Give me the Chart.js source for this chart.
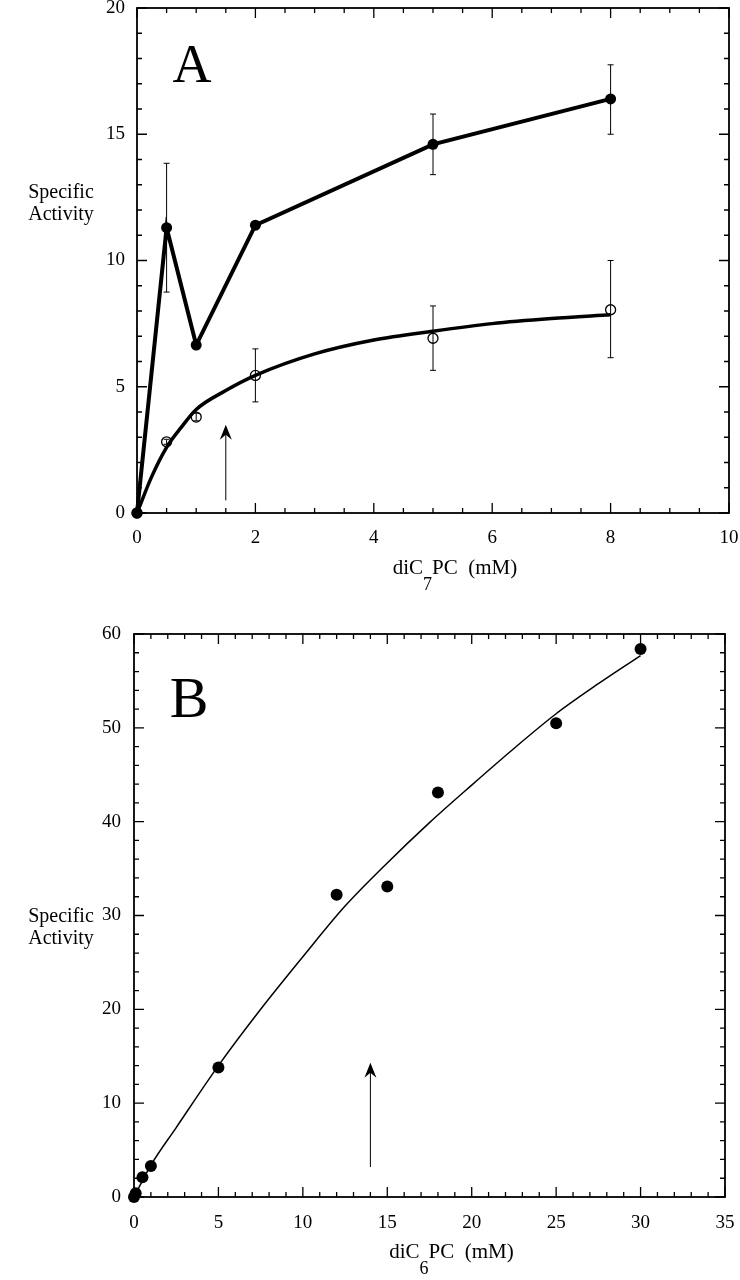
<!DOCTYPE html>
<html>
<head>
<meta charset="utf-8">
<script src="https://cdn.jsdelivr.net/npm/chart.js@4.4.1/dist/chart.umd.min.js"></script>
<style>
html, body { margin: 0; padding: 0; background: #fff; }
#wrapA { position: absolute; left: 0; top: 0; width: 740px; height: 600px; }
#wrapB { position: absolute; left: 0; top: 600px; width: 740px; height: 680px; }
</style>
</head>
<body>
<div id="wrapA"><canvas id="chartA"></canvas></div>
<div id="wrapB"><canvas id="chartB"></canvas></div>
<script>
// ---- panel A : diC7PC ----
const aConc = [0, 0.5, 1, 2, 5, 8];
const aFilled = [0, 11.3, 6.65, 11.4, 14.6, 16.4];
const aFilledLow = [null, 8.75, null, 11.28, 13.4, 15.0];
const aFilledHigh = [null, 13.85, null, 11.52, 15.8, 17.75];
const aOpen = [0, 2.82, 3.8, 5.45, 6.92, 8.05];
const aOpenLow = [null, 2.72, 3.65, 4.4, 5.65, 6.15];
const aOpenHigh = [null, 2.92, 3.95, 6.5, 8.2, 10.0];
const aFitX = [0, 0.25, 0.5, 0.75, 1, 1.5, 2, 3, 4, 5, 6, 7, 8];
const aFitY = [0, 1.45, 2.6, 3.4, 4.1, 4.85, 5.45, 6.3, 6.85, 7.2, 7.5, 7.7, 7.85];
const aXTicks = [0, 2, 4, 6, 8, 10];
const aYTicks = [0, 5, 10, 15, 20];
const aArrow = { x: 1.5, from: 0.5, to: 3.5 };

// ---- panel B : diC6PC ----
const bConc = [0, 0.1, 0.5, 1, 5, 12, 15, 18, 25, 30];
const bAct = [0, 0.4, 2.1, 3.3, 13.8, 32.2, 33.1, 43.1, 50.5, 58.4];
const bFitX = [0, 1, 2.5, 5, 7.5, 10, 12.5, 15, 17.5, 20, 22.5, 25, 27.5, 30];
const bFitY = [0, 3.4, 7.4, 14.0, 20.0, 25.6, 31.0, 35.6, 39.9, 43.9, 47.8, 51.5, 54.7, 57.7];
const bXTicks = [0, 5, 10, 15, 20, 25, 30, 35];
const bYTicks = [0, 10, 20, 30, 40, 50, 60];
const bArrow = { x: 14, from: 3.2, to: 14.3 };

const serif = '"Liberation Serif", "DejaVu Serif", serif';

function pts(xs, ys) {
    return xs.map((x, i) => ({ x: x, y: ys[i] }));
}

function drawAxisTicks(ctx, area, scale, step, major, horizontal) {
    const n = Math.round((scale.max - scale.min) / step);
    ctx.beginPath();
    for (let k = 0; k <= n; k++) {
        const v = scale.min + k * step;
        const isMajor = Math.abs(v / major - Math.round(v / major)) < 1e-6;
        const len = isMajor ? 10 : 5;
        const p = scale.getPixelForValue(v);
        if (horizontal) {
            ctx.moveTo(p, area.bottom); ctx.lineTo(p, area.bottom - len);
            ctx.moveTo(p, area.top); ctx.lineTo(p, area.top + len);
        } else {
            ctx.moveTo(area.left, p); ctx.lineTo(area.left + len, p);
            ctx.moveTo(area.right, p); ctx.lineTo(area.right - len, p);
        }
    }
    ctx.stroke();
}

function makeDecor(cfg) {
    return {
        id: 'decor',
        beforeDatasetsDraw(chart) {
            const ctx = chart.ctx, xs = chart.scales.x, ys = chart.scales.y;
            ctx.save();
            ctx.strokeStyle = '#000';
            ctx.lineWidth = 1;
            cfg.errors.forEach(set => {
                set.x.forEach((xv, i) => {
                    if (set.low[i] == null) return;
                    const px = xs.getPixelForValue(xv);
                    const y1 = ys.getPixelForValue(set.low[i]);
                    const y2 = ys.getPixelForValue(set.high[i]);
                    ctx.beginPath();
                    ctx.moveTo(px, y1); ctx.lineTo(px, y2);
                    ctx.moveTo(px - 3, y1); ctx.lineTo(px + 3, y1);
                    ctx.moveTo(px - 3, y2); ctx.lineTo(px + 3, y2);
                    ctx.stroke();
                });
            });
            // arrow
            const ax = xs.getPixelForValue(cfg.arrow.x);
            const a0 = ys.getPixelForValue(cfg.arrow.from);
            const a1 = ys.getPixelForValue(cfg.arrow.to);
            ctx.beginPath();
            ctx.moveTo(ax, a0); ctx.lineTo(ax, a1 + 8);
            ctx.stroke();
            ctx.fillStyle = '#000';
            ctx.beginPath();
            ctx.moveTo(ax, a1);
            ctx.lineTo(ax - 6, a1 + 15);
            ctx.lineTo(ax, a1 + 10);
            ctx.lineTo(ax + 6, a1 + 15);
            ctx.closePath();
            ctx.fill();
            ctx.restore();
        },
        afterDraw(chart) {
            const ctx = chart.ctx, area = chart.chartArea;
            ctx.save();
            ctx.strokeStyle = '#000';
            ctx.lineWidth = 1.8;
            ctx.strokeRect(area.left, area.top, area.right - area.left, area.bottom - area.top);
            ctx.lineWidth = 1.3;
            drawAxisTicks(ctx, area, chart.scales.x, cfg.xMinor, cfg.xMajor, true);
            drawAxisTicks(ctx, area, chart.scales.y, cfg.yMinor, cfg.yMajor, false);

            ctx.fillStyle = '#000';
            // panel letter
            ctx.font = cfg.letterSize + 'px ' + serif;
            ctx.textAlign = 'center';
            ctx.textBaseline = 'alphabetic';
            ctx.fillText(cfg.letter, area.left + 55, area.top + cfg.letterDy);

            // y title
            ctx.font = '20px ' + serif;
            ctx.fillText('Specific', 61, area.top + cfg.yTitleDy);
            ctx.fillText('Activity', 61, area.top + cfg.yTitleDy + 22);

            // x title with subscript
            const main1 = 'diC', sub = cfg.sub, main2 = 'PC  (mM)';
            ctx.font = '21px ' + serif;
            const w1 = ctx.measureText(main1).width;
            const w3 = ctx.measureText(main2).width;
            ctx.font = '18px ' + serif;
            const w2 = ctx.measureText(sub).width;
            const cx = (area.left + area.right) / 2 + 22;
            let x0 = cx - (w1 + w2 + w3) / 2;
            const base = area.bottom + 61;
            ctx.textAlign = 'left';
            ctx.font = '21px ' + serif;
            ctx.fillText(main1, x0, base);
            ctx.font = '18px ' + serif;
            ctx.fillText(sub, x0 + w1, base + 16);
            ctx.font = '21px ' + serif;
            ctx.fillText(main2, x0 + w1 + w2, base);
            ctx.restore();
        }
    };
}

function axisOpts(min, max, ticksArr, pad, isX, size) {
    return {
        type: 'linear',
        min: min,
        max: max,
        grid: { display: false, drawTicks: false },
        border: { display: false },
        afterBuildTicks: scale => { scale.ticks = ticksArr.map(v => ({ value: v })); },
        afterFit: scale => {
            if (isX) scale.height = size; else scale.width = size;
            // labels may run past the plot edge, as in the original
            scale.paddingLeft = 0; scale.paddingRight = 0;
            scale.paddingTop = 0; scale.paddingBottom = 0;
        },
        ticks: {
            color: '#000',
            padding: pad,
            maxRotation: 0,
            autoSkip: false,
            font: { family: serif, size: 19 }
        }
    };
}

function baseOptions(padding, xs, ys) {
    return {
        responsive: true,
        maintainAspectRatio: false,
        animation: false,
        layout: { padding: padding },
        plugins: { legend: { display: false }, tooltip: { enabled: false } },
        scales: { x: xs, y: ys }
    };
}

new Chart(document.getElementById('chartA'), {
    type: 'scatter',
    data: {
        datasets: [
            {
                data: pts(aFitX, aFitY),
                showLine: true, cubicInterpolationMode: 'monotone',
                borderColor: '#000', borderWidth: 3.5, pointRadius: 0, clip: false
            },
            {
                data: pts(aConc, aFilled),
                showLine: true, borderColor: '#000', borderWidth: 4,
                pointRadius: 5.5, pointBackgroundColor: '#000', pointBorderWidth: 0, clip: false
            },
            {
                data: pts(aConc, aOpen),
                showLine: false, borderColor: '#000',
                pointRadius: 5, pointBackgroundColor: 'rgba(255,255,255,0)', pointBorderWidth: 1.3, clip: false
            }
        ]
    },
    options: baseOptions({ top: 8, right: 11, left: 0, bottom: 0 },
        axisOpts(0, 10, aXTicks, 14, true, 87),
        axisOpts(0, 20, aYTicks, 12, false, 137)),
    plugins: [makeDecor({
        errors: [
            { x: aConc, low: aFilledLow, high: aFilledHigh },
            { x: aConc, low: aOpenLow, high: aOpenHigh }
        ],
        arrow: aArrow,
        xMinor: 0.5, xMajor: 2, yMinor: 1, yMajor: 5,
        letter: 'A', letterSize: 54, letterDy: 74,
        yTitleDy: 190, sub: '7'
    })]
});

new Chart(document.getElementById('chartB'), {
    type: 'scatter',
    data: {
        datasets: [
            {
                data: pts(bFitX, bFitY),
                showLine: true, cubicInterpolationMode: 'monotone',
                borderColor: '#000', borderWidth: 1.5, pointRadius: 0, clip: false
            },
            {
                data: pts(bConc, bAct),
                showLine: false,
                pointRadius: 6, pointBackgroundColor: '#000', pointBorderWidth: 0, clip: false
            }
        ]
    },
    options: baseOptions({ top: 34, right: 15, left: 0, bottom: 0 },
        axisOpts(0, 35, bXTicks, 15, true, 83),
        axisOpts(0, 60, bYTicks, 13, false, 134)),
    plugins: [makeDecor({
        errors: [],
        arrow: bArrow,
        xMinor: 1, xMajor: 5, yMinor: 2, yMajor: 10,
        letter: 'B', letterSize: 58, letterDy: 83,
        yTitleDy: 288, sub: '6'
    })]
});
</script>
</body>
</html>
